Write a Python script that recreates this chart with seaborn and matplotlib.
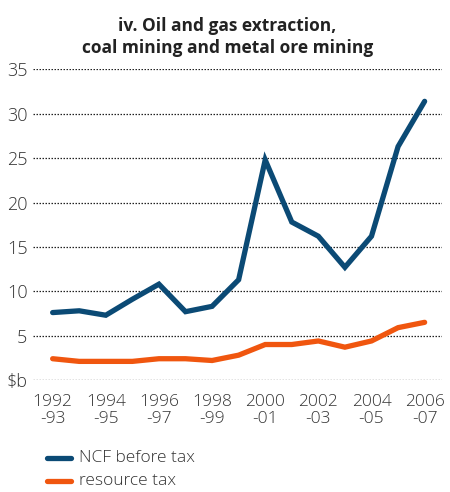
import numpy as np
import pandas as pd
import matplotlib
matplotlib.use("Agg")
import matplotlib.pyplot as plt
import seaborn as sns

# data ($b)
years = ["1992-93", "1993-94", "1994-95", "1995-96", "1996-97", "1997-98", "1998-99",
         "1999-00", "2000-01", "2001-02", "2002-03", "2003-04", "2004-05", "2005-06", "2006-07"]
ncf_before_tax = [7.6, 7.8, 7.3, 9.1, 10.8, 7.7, 8.3, 11.3, 24.8, 17.8, 16.2, 12.7, 16.2, 26.3, 31.4]
resource_tax = [2.4, 2.1, 2.1, 2.1, 2.4, 2.4, 2.2, 2.8, 4.0, 4.0, 4.4, 3.7, 4.4, 5.9, 6.5]
tick_labels = ["1992\n-93", "1994\n-95", "1996\n-97", "1998\n-99",
               "2000\n-01", "2002\n-03", "2004\n-05", "2006\n-07"]
y_ticks = [0, 5, 10, 15, 20, 25, 30, 35]
y_tick_labels = ["$b", "5", "10", "15", "20", "25", "30", "35"]

df = pd.DataFrame({
    "pos": list(range(len(years))) * 2,
    "value": ncf_before_tax + resource_tax,
    "series": ["NCF before tax"] * len(years) + ["resource tax"] * len(years),
})

sns.set_style("white")
plt.rcParams["font.family"] = ["Open Sans", "DejaVu Sans"]

fig = plt.figure(figsize=(4.5, 4.92), dpi=100)
ax = fig.add_axes([0.0733, 0.2276, 0.9087, 0.6314])

palette = {"NCF before tax": "#0b4a75", "resource tax": "#f0560f"}
sns.lineplot(data=df, x="pos", y="value", hue="series", palette=palette,
             linewidth=3.8, ax=ax, legend=False, solid_capstyle="round",
             solid_joinstyle="miter")

ax.set_xlim(-0.74, 14.65)
ax.set_ylim(0, 35)
ax.set_yticks(y_ticks)
ax.set_yticklabels(y_tick_labels, fontweight="light")
ax.set_xticks(range(0, len(years), 2))
ax.set_xticklabels(tick_labels, linespacing=1.1, fontweight="light")
ax.set_xticks(range(len(years)), minor=True)
ax.set_xlabel("")
ax.set_ylabel("")

for y in y_ticks:
    ax.axhline(y, color="#222222", linestyle=(0, (1.2, 1.2)), linewidth=0.9, zorder=0)

for s in ax.spines.values():
    s.set_visible(False)

ax.tick_params(axis="y", length=0, pad=4, labelsize=13, labelcolor="#333333")
ax.tick_params(axis="x", which="both", direction="out", length=6, width=1,
               color="#222222", pad=4, labelsize=12.5, labelcolor="#333333")
ax.tick_params(axis="x", which="minor", labelbottom=False)

fig.text(0.505, 0.965, "iv. Oil and gas extraction,\ncoal mining and metal ore mining",
         ha="center", va="top", fontsize=12.5, fontweight="bold", color="#222222",
         linespacing=1.25)

# legend
for i, name in enumerate(["NCF before tax", "resource tax"]):
    yy = 1 - (458 + 23 * i) / 492
    fig.add_artist(plt.Line2D([47 / 450, 71 / 450], [yy, yy], color=palette[name],
                              linewidth=3.8, solid_capstyle="round"))
    fig.text(79 / 450, yy, name, ha="left", va="center", fontsize=12.5,
             fontweight="light", color="#333333")

fig.savefig("out.png", dpi=100)
